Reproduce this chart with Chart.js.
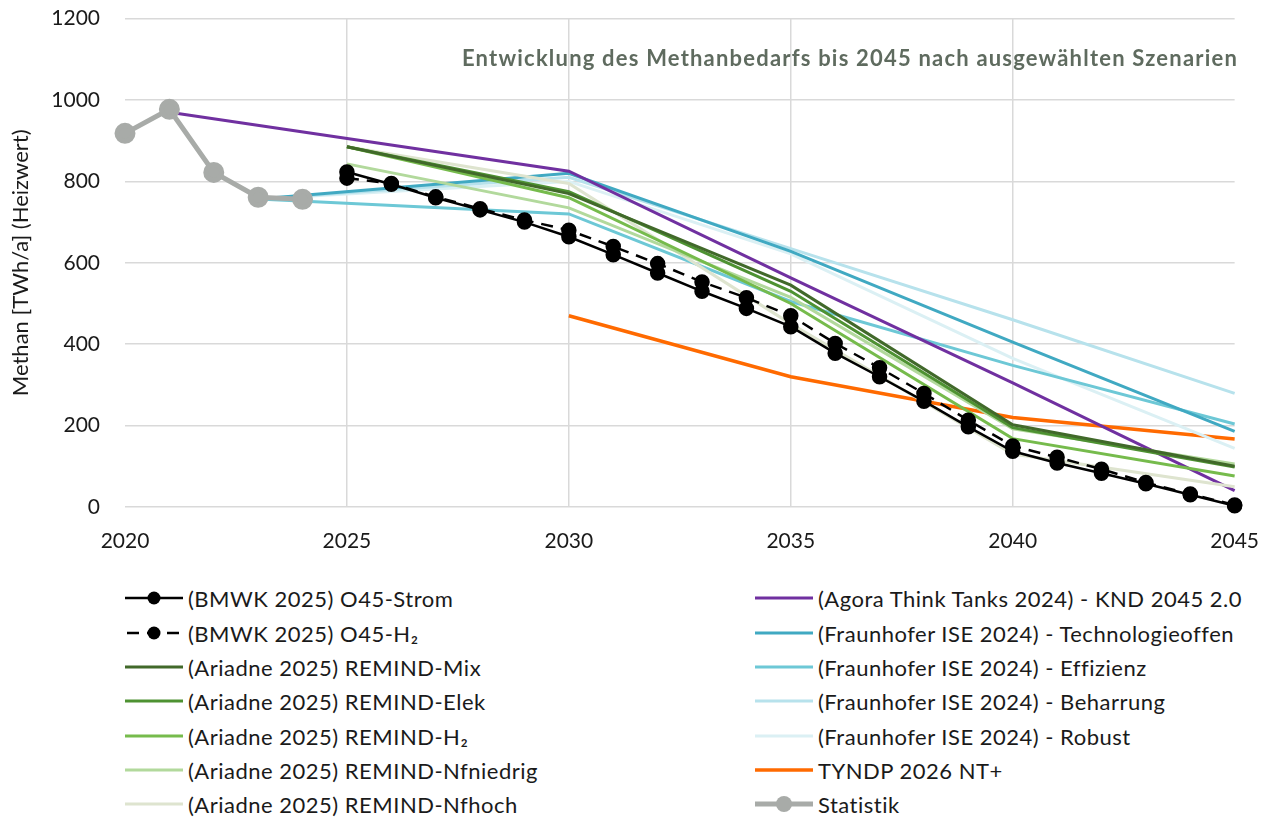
<!DOCTYPE html>
<html>
<head>
<meta charset="utf-8">
<script src="https://cdn.jsdelivr.net/npm/chart.js@4"></script>
<style>
  body { margin: 0; background: #fff; font-family: Lato, "Open Sans", sans-serif; }
  #wrap { position: relative; width: 1281px; height: 818px; overflow: hidden; }
  #chart { position: absolute; left: 0; top: -19px; }
  #title { position: absolute; right: 43px; top: 44px; font-size: 22px; letter-spacing: 1.2px; font-weight: bold; color: #5f6b5f; }
  .item { position: absolute; height: 28px; display: flex; align-items: center; font-size: 22px; letter-spacing: 0.5px; color: #1a1a1a; white-space: nowrap; }
  .item svg { margin-right: 5px; }
</style>
</head>
<body>
<div id="wrap">
  <canvas id="chart" width="1281" height="579"></canvas>
  <div id="title">Entwicklung des Methanbedarfs bis 2045 nach ausgewählten Szenarien</div>
  <div id="legend"></div>
</div>
<script>
// Jahre
const bmwkYears = [2025, 2026, 2027, 2028, 2029, 2030, 2031, 2032, 2033, 2034, 2035, 2036, 2037, 2038, 2039, 2040, 2041, 2042, 2043, 2044, 2045];
const ariadneYears = [2025, 2030, 2035, 2040, 2045];
const agoraYears = [2021, 2030, 2035, 2040, 2045];
const iseYears = [2023, 2030, 2035, 2040, 2045];
const tyndpYears = [2030, 2035, 2040, 2045];
const statYears = [2020, 2021, 2022, 2023, 2024];

// Werte in TWh/a
const bmwkStrom = [823, 793, 760, 730, 700, 664, 620, 575, 530, 488, 443, 378, 320, 260, 197, 137, 108, 83, 57, 30, 3];
const bmwkH2 = [808, 795, 762, 733, 705, 680, 640, 598, 553, 514, 470, 402, 342, 279, 213, 150, 122, 93, 60, 32, 5];
const remindMix = [885, 770, 545, 202, 100];
const remindElek = [885, 775, 530, 195, 98];
const remindH2 = [885, 760, 500, 168, 76];
const remindNfniedrig = [843, 735, 515, 192, 106];
const remindNfhoch = [885, 795, 450, 130, 50];
const agoraKnd = [970, 825, 563, 305, 40];
const iseTechnologieoffen = [757, 820, 628, 405, 186];
const iseEffizienz = [757, 720, 505, 348, 204];
const iseBeharrung = [757, 810, 635, 460, 279];
const iseRobust = [757, 800, 622, 365, 144];
const tyndpNT = [470, 320, 220, 167];
const statistik = [918, 977, 822, 761, 756];

const yTicks = [0, 200, 400, 600, 800, 1000, 1200];
const xTicks = [2020, 2025, 2030, 2035, 2040, 2045];

function pts(xs, ys) { return xs.map((x, i) => ({ x: x, y: ys[i] })); }

function line(label, xs, ys, color, extra) {
  return Object.assign({
    label: label,
    data: pts(xs, ys),
    borderColor: color,
    backgroundColor: color,
    borderWidth: 3,
    pointRadius: 0,
    tension: 0,
    clip: false
  }, extra || {});
}

const datasets = [
  line('(BMWK 2025) O45-Strom', bmwkYears, bmwkStrom, '#000000', { borderWidth: 2.5, pointRadius: 6.5, col: 0 }),
  line('(BMWK 2025) O45-H2', bmwkYears, bmwkH2, '#000000', { borderWidth: 2.5, pointRadius: 6.5, borderDash: [12, 8], col: 0 }),
  line('(Ariadne 2025) REMIND-Mix', ariadneYears, remindMix, '#41692a', { col: 0 }),
  line('(Ariadne 2025) REMIND-Elek', ariadneYears, remindElek, '#4e9232', { col: 0 }),
  line('(Ariadne 2025) REMIND-H2', ariadneYears, remindH2, '#76bb4c', { col: 0 }),
  line('(Ariadne 2025) REMIND-Nfniedrig', ariadneYears, remindNfniedrig, '#b2d99c', { col: 0 }),
  line('(Ariadne 2025) REMIND-Nfhoch', ariadneYears, remindNfhoch, '#dee4cf', { col: 0 }),
  line('(Agora Think Tanks 2024) - KND 2045 2.0', agoraYears, agoraKnd, '#7030a0', { col: 1 }),
  line('(Fraunhofer ISE 2024) - Technologieoffen', iseYears, iseTechnologieoffen, '#40a9c2', { col: 1 }),
  line('(Fraunhofer ISE 2024) - Effizienz', iseYears, iseEffizienz, '#6dc8d6', { col: 1 }),
  line('(Fraunhofer ISE 2024) - Beharrung', iseYears, iseBeharrung, '#b7e2ec', { col: 1 }),
  line('(Fraunhofer ISE 2024) - Robust', iseYears, iseRobust, '#dbf0f4', { col: 1 }),
  line('TYNDP 2026 NT+', tyndpYears, tyndpNT, '#ff6a00', { borderWidth: 3.5, col: 1 }),
  line('Statistik', statYears, statistik, '#a8aba8', { borderWidth: 5, pointRadius: 8, order: -1, col: 1 })
];

const font = { family: 'Lato, "Open Sans", sans-serif', size: 21 };

const chart = new Chart(document.getElementById('chart'), {
  type: 'line',
  data: { datasets: datasets },
  options: {
    responsive: false,
    animation: false,
    layout: { padding: { top: 0, right: 36, left: 0, bottom: 0 } },
    plugins: { legend: { display: false }, tooltip: { enabled: false } },
    scales: {
      x: {
        type: 'linear',
        min: 2020,
        max: 2045,
        afterBuildTicks: s => { s.ticks = xTicks.map(v => ({ value: v })); },
        afterFit: s => { s.height = 53; },
        border: { display: false },
        grid: {
          drawTicks: false,
          lineWidth: 1.5,
          color: c => (c.tick && (c.tick.value === 2020 || c.tick.value === 2045)) ? 'rgba(0,0,0,0)' : '#d9d9d9'
        },
        ticks: { color: '#1a1a1a', font: font, padding: 22, callback: v => String(v) }
      },
      y: {
        min: 0,
        max: 1200,
        afterBuildTicks: s => { s.ticks = yTicks.map(v => ({ value: v })); },
        afterFit: s => { s.width = 125; },
        border: { display: false },
        grid: { drawTicks: false, lineWidth: 1.5, color: '#d9d9d9' },
        ticks: { color: '#1a1a1a', font: font, padding: 25, callback: v => String(v) },
        title: { display: true, text: 'Methan [TWh/a] (Heizwert)', color: '#1a1a1a', font: { family: font.family, size: 22 }, padding: { top: 8, bottom: 0 } }
      }
    }
  }
});

// Legende in zwei Spalten
const legend = document.getElementById('legend');
const colX = [125, 755];
const rowY = [598, 633, 667, 701, 736, 770, 804];
const counts = [0, 0];
datasets.forEach(ds => {
  const r = counts[ds.col]++;
  const el = document.createElement('div');
  el.className = 'item';
  el.style.left = colX[ds.col] + 'px';
  el.style.top = (rowY[r] - 14) + 'px';
  const dash = ds.borderDash ? ' stroke-dasharray="12 8" stroke-dashoffset="-2"' : '';
  const marker = ds.pointRadius ? `<circle cx="29" cy="14" r="${ds.pointRadius}" fill="${ds.borderColor}"/>` : '';
  el.innerHTML = `<svg width="58" height="28"><line x1="0" y1="14" x2="58" y2="14" stroke="${ds.borderColor}" stroke-width="${ds.borderWidth}"${dash}/>${marker}</svg><span>${ds.label.replace('H2', 'H₂')}</span>`;
  legend.appendChild(el);
});
</script>
</body>
</html>
